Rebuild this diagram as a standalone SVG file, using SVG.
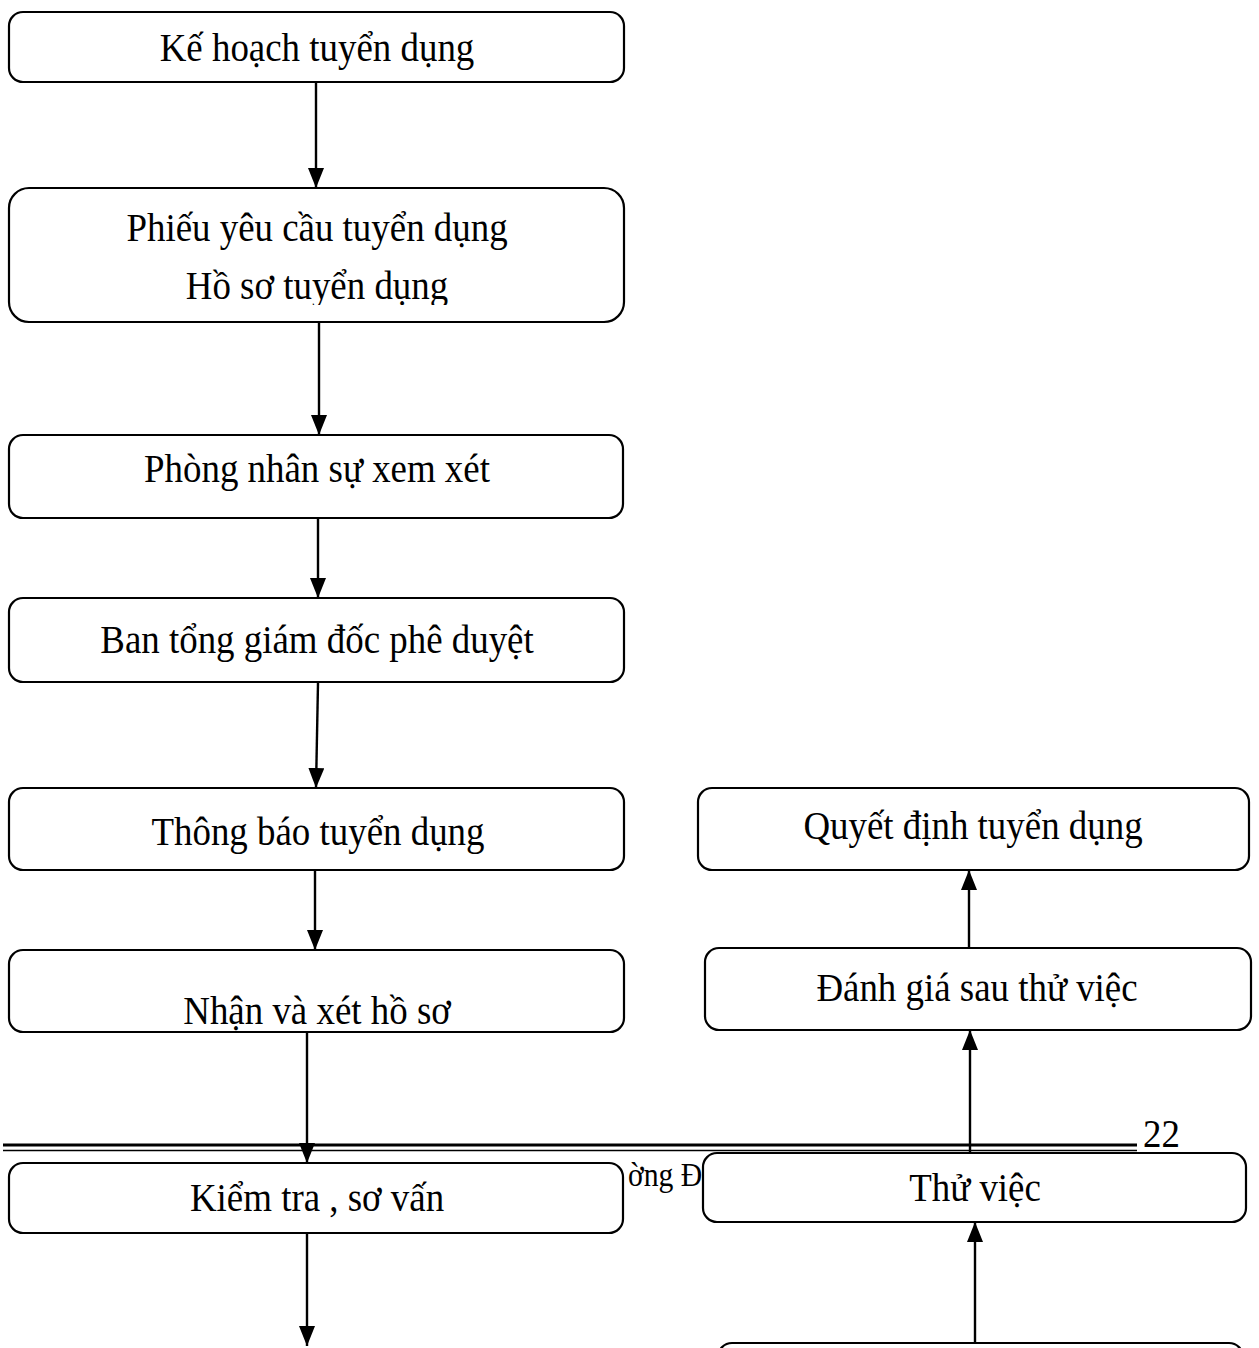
<svg xmlns="http://www.w3.org/2000/svg" width="1259" height="1348" viewBox="0 0 1259 1348">
  <defs>
    <style>
      .box { fill: #fff; stroke: #000; stroke-width: 2.2; }
      .lbl { font-family: "Liberation Serif", "Times New Roman", serif; font-size: 41px; fill: #000; text-anchor: middle; }
      .foot { font-family: "Liberation Serif", "Times New Roman", serif; fill: #000; }
      .edge { stroke: #000; stroke-width: 2.4; fill: none; marker-end: url(#arrow); }
      .rule { stroke: #000; fill: none; }
    </style>
    <marker id="arrow" markerUnits="userSpaceOnUse" markerWidth="20" markerHeight="16" viewBox="0 0 20 16" refX="20" refY="8" orient="auto">
      <path d="M0,0 L20,8 L0,16 Z" fill="#000"/>
    </marker>
    <clipPath id="clip-req">
      <rect x="9" y="188" width="615" height="117"/>
    </clipPath>
  </defs>

  <!-- page footer: double rule, page number and running text -->
  <g id="footer">
    <line class="rule" x1="3" y1="1145" x2="1137" y2="1145" stroke-width="3"/>
    <line class="rule" x1="3" y1="1150.5" x2="1137" y2="1150.5" stroke-width="1.6"/>
    <text class="foot" font-size="41" transform="translate(1143,1147) scale(0.9,1)">22</text>
    <text class="foot" font-size="33" transform="translate(628,1186) scale(0.9,1)">ờng Đ</text>
  </g>

  <!-- connectors -->
  <g id="connectors">
    <line class="edge" x1="316" y1="83" x2="316" y2="188"/>
    <line class="edge" x1="319" y1="323" x2="319" y2="435"/>
    <line class="edge" x1="318" y1="519" x2="318" y2="598"/>
    <line class="edge" x1="318" y1="683" x2="316" y2="788"/>
    <line class="edge" x1="315" y1="871" x2="315" y2="950"/>
    <line class="edge" x1="307" y1="1033" x2="307" y2="1163"/>
    <line class="edge" x1="307" y1="1234" x2="307" y2="1346"/>
    <line class="edge" x1="975" y1="1343" x2="975" y2="1222"/>
    <line class="edge" x1="970" y1="1153" x2="970" y2="1030"/>
    <line class="edge" x1="969" y1="948" x2="969" y2="870"/>
  </g>

  <!-- left column -->
  <g id="n-ke-hoach">
    <rect class="box" x="9" y="12" width="615" height="70" rx="14"/>
    <text class="lbl" transform="translate(317,61) scale(0.9,1)">Kế hoạch tuyển dụng</text>
  </g>
  <g id="n-phieu-yeu-cau">
    <rect class="box" x="9" y="188" width="615" height="134" rx="20"/>
    <g clip-path="url(#clip-req)">
      <text class="lbl" transform="translate(317,241) scale(0.9,1)">Phiếu yêu cầu tuyển dụng</text>
      <text class="lbl" transform="translate(317,299) scale(0.9,1)">Hồ sơ tuyển dụng</text>
    </g>
  </g>
  <g id="n-phong-nhan-su">
    <rect class="box" x="9" y="435" width="614" height="83" rx="14"/>
    <text class="lbl" transform="translate(317,482) scale(0.9,1)">Phòng nhân sự xem xét</text>
  </g>
  <g id="n-ban-tong-giam-doc">
    <rect class="box" x="9" y="598" width="615" height="84" rx="14"/>
    <text class="lbl" transform="translate(317,653) scale(0.9,1)">Ban tổng giám đốc phê duyệt</text>
  </g>
  <g id="n-thong-bao">
    <rect class="box" x="9" y="788" width="615" height="82" rx="14"/>
    <text class="lbl" transform="translate(318,845) scale(0.9,1)">Thông báo tuyển dụng</text>
  </g>
  <g id="n-nhan-xet">
    <rect class="box" x="9" y="950" width="615" height="82" rx="14"/>
    <text class="lbl" transform="translate(317,1024) scale(0.9,1)">Nhận và xét hồ sơ</text>
  </g>
  <g id="n-kiem-tra">
    <rect class="box" x="9" y="1163" width="614" height="70" rx="14"/>
    <text class="lbl" transform="translate(317,1211) scale(0.9,1)">Kiểm tra , sơ vấn</text>
  </g>

  <!-- right column -->
  <g id="n-quyet-dinh">
    <rect class="box" x="698" y="788" width="551" height="82" rx="14"/>
    <text class="lbl" transform="translate(973,839) scale(0.9,1)">Quyết định tuyển dụng</text>
  </g>
  <g id="n-danh-gia">
    <rect class="box" x="705" y="948" width="546" height="82" rx="14"/>
    <text class="lbl" transform="translate(977,1001) scale(0.9,1)">Đánh giá sau thử việc</text>
  </g>
  <g id="n-thu-viec">
    <rect class="box" x="703" y="1153" width="543" height="69" rx="14"/>
    <text class="lbl" transform="translate(975,1201) scale(0.9,1)">Thử việc</text>
  </g>
  <g id="n-bottom">
    <rect class="box" x="718" y="1343" width="525" height="60" rx="14"/>
  </g>
</svg>
